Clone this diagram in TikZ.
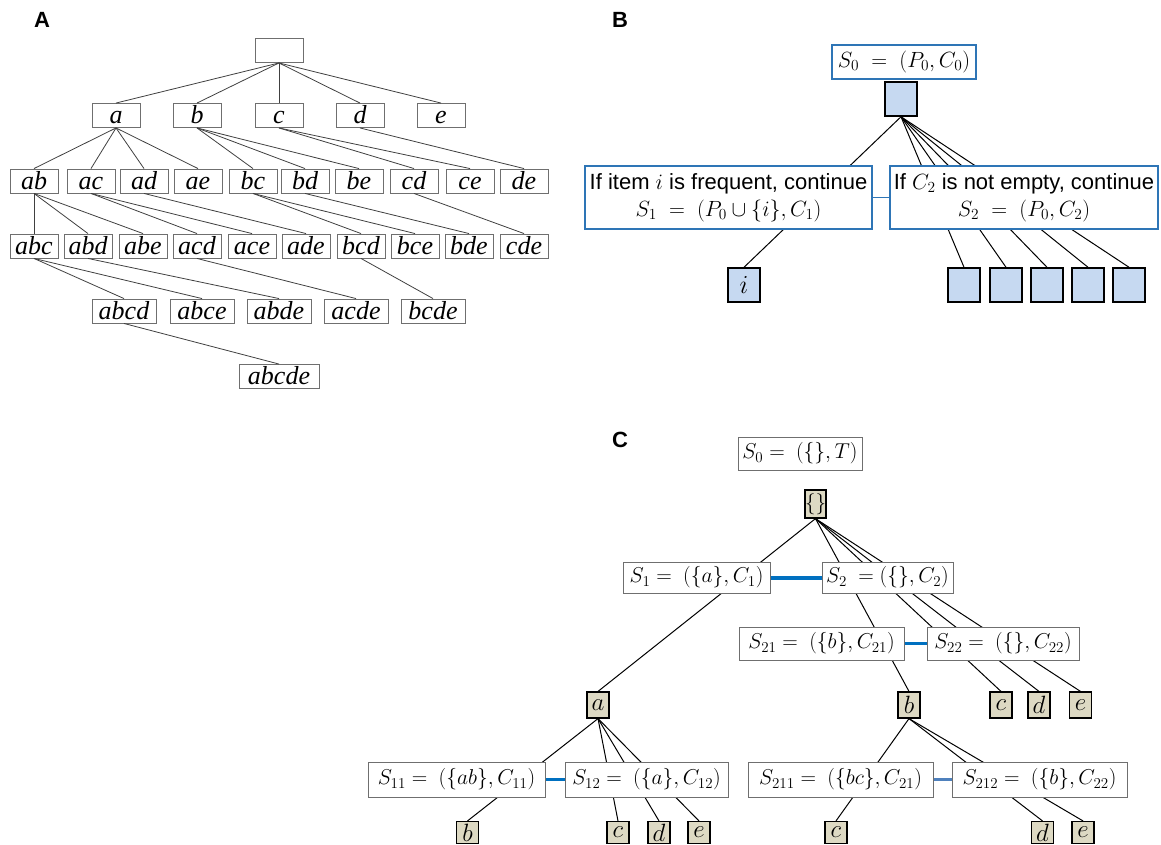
\documentclass[tikz,border=0pt]{standalone}
\usepackage{fix-cm}
\usepackage{fontspec}
\setmainfont{Liberation Serif}
\setsansfont{Liberation Sans}
\usepackage{tikz}
\usetikzlibrary{positioning,calc}
\definecolor{boxblue}{HTML}{2E75B6}
\definecolor{linkblue}{HTML}{0070C0}
\definecolor{linkpale}{HTML}{4F81BD}
\definecolor{sqblue}{HTML}{C6D9F1}
\definecolor{sqtan}{HTML}{DDD9C3}
\definecolor{boxgray}{HTML}{6F6F6F}
\tikzstyle{panel} = [font=\sffamily\bfseries\fontsize{22}{22}\selectfont, inner sep=0pt]
\tikzstyle{setbox} = [draw=boxgray, line width=0.9pt, inner sep=0pt, minimum width=48pt, minimum height=24pt, text height=18pt, text depth=2pt, font=\fontsize{26}{26}\selectfont\itshape]
\tikzstyle{treeline} = [draw=black!75, line width=0.8pt]
\tikzstyle{edge} = [draw=black, line width=1pt]
\tikzstyle{statebox} = [draw=boxblue, line width=1.3pt, fill=white, align=center, inner sep=2pt, font=\sffamily\fontsize{22}{27}\selectfont]
\tikzstyle{plainbox} = [draw=boxgray, line width=1pt, fill=white, inner sep=2pt, minimum height=33pt, font=\fontsize{21.5}{21.5}\selectfont]
\tikzstyle{bluesq} = [draw=black, line width=1.5pt, fill=sqblue, inner sep=0pt, minimum width=32pt, minimum height=34pt, font=\fontsize{26}{26}\selectfont]
\tikzstyle{tansq} = [draw=black, line width=1.2pt, fill=sqtan, inner sep=0pt, minimum width=22pt, minimum height=26pt, font=\fontsize{25}{25}\selectfont]
\tikzstyle{link} = [draw=linkblue, line width=3pt]

\begin{document}
\begin{tikzpicture}[x=1pt,y=-1pt]
    \useasboundingbox (0,0) rectangle (1161,844);

    \node[panel] (labA) at (42,20) {A};
    \node[panel] (labB) at (620,20) {B};
    \node[panel] (labC) at (620,440) {C};

    % A: the lattice of itemsets
    \node[setbox] (A-r) at (279,50.5) {};
    \foreach \n/\x in {a/116,b/197,c/279,d/360,e/441}
        \node[setbox] (A-\n) at (\x,115.5) {\n};
    \foreach \n/\x in {ab/34,ac/91,ad/144,ae/198,bc/253,bd/305,be/359,cd/414,ce/470,de/524}
        \node[setbox] (A-\n) at (\x,181) {\n};
    \foreach \n/\x in {abc/34,abd/88,abe/143,acd/197,ace/252,ade/306,bcd/361,bce/415,bde/469,cde/524}
        \node[setbox] (A-\n) at (\x,246) {\n};
    \foreach \n/\x in {abcd/124,abce/202,abde/279,acde/356,bcde/433}
        \node[setbox, minimum width=64pt] (A-\n) at (\x,311) {\n};
    \node[setbox, minimum width=80pt] (A-abcde) at (279,376.5) {abcde};
    \foreach \p/\c in {r/a,r/b,r/c,r/d,r/e,a/ab,a/ac,a/ad,a/ae,b/bc,b/bd,b/be,c/cd,c/ce,d/de,
        ab/abc,ab/abd,ab/abe,ac/acd,ac/ace,ad/ade,bc/bcd,bc/bce,bd/bde,cd/cde,
        abc/abcd,abc/abce,abd/abde,acd/acde,bcd/bcde,abcd/abcde}
        \draw[treeline] (A-\p.south) -- (A-\c.north);

    % B: one split step
    \node[statebox, minimum width=144pt, minimum height=34pt] (B-s0) at (904,62) {$S_0\ =\ (P_0,C_0)$};
    \node[bluesq] (B-root) at (901,99) {};
    \node[bluesq] (B-i) at (744,285) {$i$};
    \foreach \k/\x in {1/964,2/1006,3/1047,4/1088,5/1129}
        \node[bluesq] (B-q\k) at (\x,285) {};
    \draw[edge] (B-root.south) -- (B-i.north);
    \foreach \k in {1,...,5}
        \draw[edge] (B-root.south) -- (B-q\k.north);
    \node[statebox, minimum width=287pt, minimum height=63pt] (B-s1) at (728.5,197.5) {If item $i$ is frequent, continue\\$S_1\ =\ (P_0\cup\{i\},C_1)$};
    \node[statebox, minimum width=268pt, minimum height=63pt] (B-s2) at (1024,197.5) {If $C_2$ is not empty, continue\\$S_2\ =\ (P_0,C_2)$};
    \draw[boxblue, line width=1.2pt] (B-s1) -- (B-s2);

    % C: worked example
    \node[plainbox, minimum width=124pt] (C-s0) at (800,453.5) {$S_0 =\ (\{\},T)$};
    \node[tansq, minimum width=21pt, minimum height=28pt, font=\fontsize{21}{21}\selectfont] (C-root) at (815.5,504) {$\{\}$};
    \node[tansq] (C-a) at (598,705) {$a$};
    \node[tansq] (C-b) at (909,705) {$b$};
    \foreach \n/\x in {c/1001,d/1039,e/1080.5}
        \node[tansq] (C-\n) at (\x,705) {$\n$};
    \foreach \n/\x in {b/467.5,c/618,d/659,e/699}
        \node[tansq, minimum height=22pt] (C-a\n) at (\x,832.5) {$\n$};
    \foreach \n/\x in {c/836,d/1042.5,e/1083}
        \node[tansq, minimum height=22pt] (C-b\n) at (\x,832.5) {$\n$};
    \foreach \n in {a,b,c,d,e}
        \draw[edge] (C-root.south) -- (C-\n.north);
    \foreach \n in {b,c,d,e}
        \draw[edge] (C-a.south) -- (C-a\n.north);
    \foreach \n in {c,d,e}
        \draw[edge] (C-b.south) -- (C-b\n.north);
    \node[plainbox, minimum width=147pt, minimum height=31pt] (C-s1) at (696.5,577.5) {$S_1 =\ (\{a\},C_1)$};
    \node[plainbox, minimum width=131pt, minimum height=31pt] (C-s2) at (887.5,577.5) {$S_2\ = (\{\},C_2)$};
    \node[plainbox, minimum width=165pt] (C-s21) at (821.5,643.5) {$S_{21} =\ (\{b\},C_{21})$};
    \node[plainbox, minimum width=152pt] (C-s22) at (1003,643.5) {$S_{22} =\ (\{\},C_{22})$};
    \node[plainbox, minimum width=177pt, minimum height=35pt] (C-s11) at (456.5,779.5) {$S_{11} =\ (\{ab\},C_{11})$};
    \node[plainbox, minimum width=163pt, minimum height=35pt] (C-s12) at (646.5,779.5) {$S_{12} =\ (\{a\},C_{12})$};
    \node[plainbox, minimum width=185pt, minimum height=35pt] (C-s211) at (840.5,779.5) {$S_{211} =\ (\{bc\},C_{21})$};
    \node[plainbox, minimum width=175pt, minimum height=35pt] (C-s212) at (1039.5,779.5) {$S_{212} =\ (\{b\},C_{22})$};
    \draw[link, line width=4pt] (C-s1) -- (C-s2);
    \draw[link] (C-s21) -- (C-s22);
    \draw[link] (C-s11) -- (C-s12);
    \draw[link, draw=linkpale] (C-s211) -- (C-s212);
\end{tikzpicture}
\end{document}
